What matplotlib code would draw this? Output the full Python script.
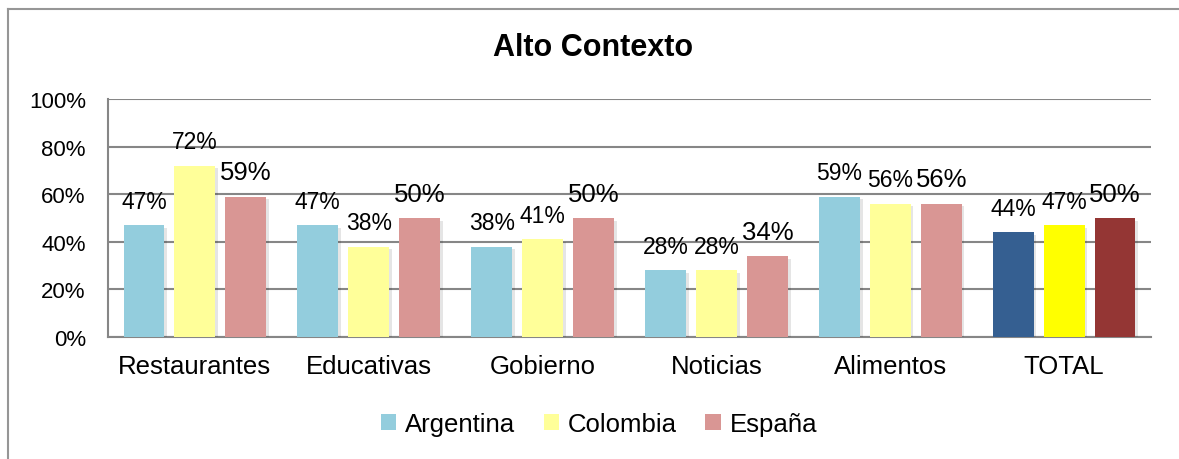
import matplotlib
matplotlib.use("Agg")
import matplotlib.pyplot as plt
import numpy as np
from matplotlib.lines import Line2D
from matplotlib.patches import Patch
import matplotlib.patheffects as pe

plt.rcParams['font.family'] = ['Liberation Sans', 'DejaVu Sans']

categories = ["Restaurantes", "Educativas", "Gobierno", "Noticias", "Alimentos", "TOTAL"]
series_names = ["Argentina", "Colombia", "España"]
argentina = [47, 47, 38, 28, 59, 44]
colombia = [72, 38, 41, 28, 56, 47]
espana = [59, 50, 50, 34, 56, 50]
yticks = [0, 20, 40, 60, 80, 100]

base_colors = ["#93CDDD", "#FFFF99", "#D99694"]
total_colors = ["#355F91", "#FFFF00", "#943634"]
label_sizes = [16.5, 16.5, 18.5]

fig = plt.figure(figsize=(11.79, 4.60), dpi=100)
ax = fig.add_axes([108/1179, 1-338/460, (1151-108)/1179, (338-100)/460])

x = np.arange(len(categories))
step = 0.293
width = 0.235
shadow = [pe.SimplePatchShadow(offset=(2, -2), shadow_rgbFace='#000000', alpha=0.10), pe.Normal()]
for i, vals in enumerate([argentina, colombia, espana]):
    cols = [base_colors[i]] * (len(categories) - 1) + [total_colors[i]]
    pos = x + (i - 1) * step
    bars = ax.bar(pos, vals, width=width, color=cols, zorder=3, linewidth=0)
    for b in bars:
        b.set_path_effects(shadow)
    for p, v in zip(pos, vals):
        ax.annotate(f"{v}%", (p, v), xytext=(0, 12.5), textcoords="offset points",
                    ha="center", va="baseline", fontsize=label_sizes[i], zorder=5)

ax.set_xlim(-0.5, len(categories) - 0.5)
ax.set_ylim(0, 100)
ax.set_yticks(yticks)
ax.set_yticklabels([f"{t}%" for t in yticks])
ax.set_xticks(x)
ax.set_xticklabels(categories)
ax.tick_params(axis='both', length=0)
ax.tick_params(axis='y', pad=16, labelsize=16)
ax.tick_params(axis='x', pad=12, labelsize=18.5)
ax.yaxis.grid(True, color="#868686", linewidth=1.5, zorder=0)
ax.set_axisbelow(True)
for s in ["top", "right"]:
    ax.spines[s].set_visible(False)
for s in ["left", "bottom"]:
    ax.spines[s].set_color("#868686")
    ax.spines[s].set_linewidth(1.5)

fig.text(593/1179, 1-48/460, "Alto Contexto", ha="center", va="center",
         fontsize=22, fontweight="bold")

handles = [Patch(facecolor=c, edgecolor='none') for c in base_colors]
fig.legend(handles, series_names, loc="center", bbox_to_anchor=(599/1179, 1-425/460),
           ncol=3, frameon=False, fontsize=18.5, handlelength=0.6, handleheight=0.6,
           handletextpad=0.35, columnspacing=1.1)

fig.add_artist(Line2D([8/1179, 8/1179], [0, 1-10/460], transform=fig.transFigure,
                      color="#969696", linewidth=1.5))
fig.add_artist(Line2D([8/1179, 1], [1-10/460, 1-10/460], transform=fig.transFigure,
                      color="#969696", linewidth=1.5))

fig.savefig("out.png", dpi=100)
